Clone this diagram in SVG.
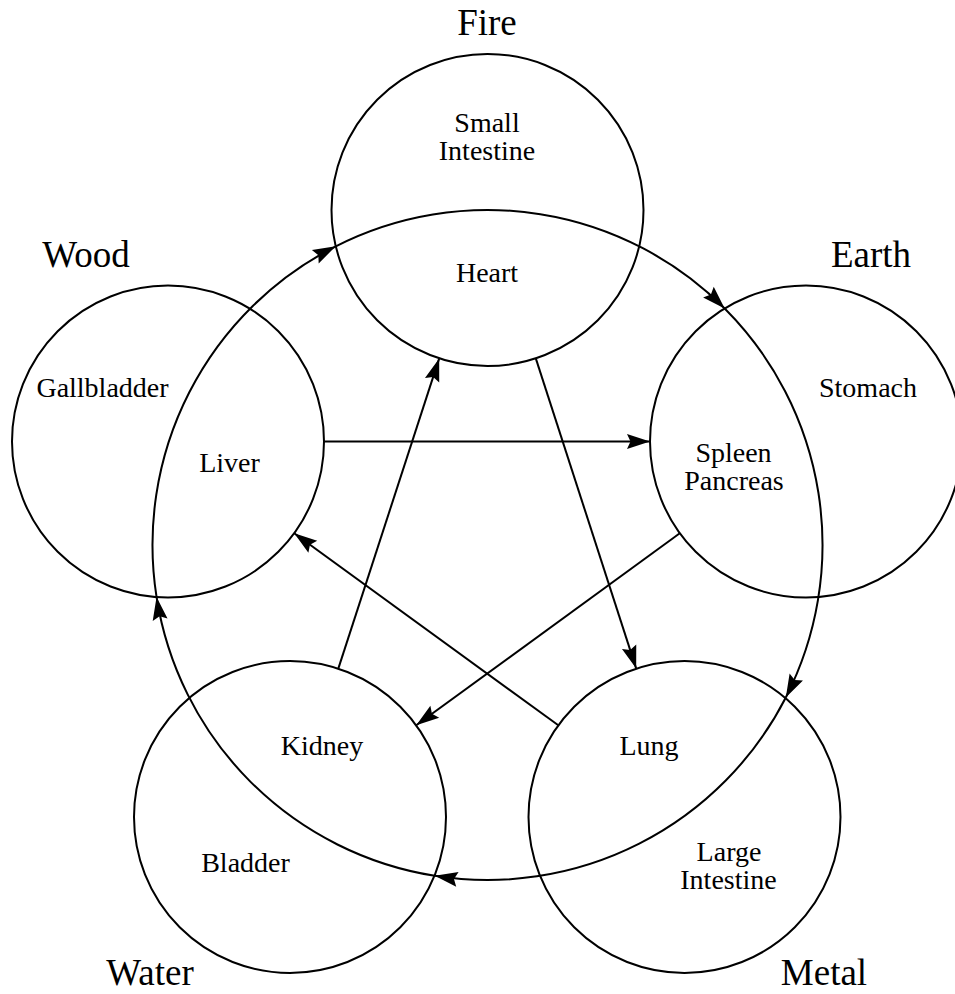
<svg xmlns="http://www.w3.org/2000/svg" width="955" height="994" viewBox="0 0 955 994">
  <style>
    .ring { fill: none; stroke: #000; stroke-width: 2; }
    .edge { fill: none; stroke: #000; stroke-width: 2; marker-end: url(#arrow); }
    .organ { font-family: "Liberation Serif", "Times New Roman", serif; font-size: 28px; fill: #000; text-anchor: middle; }
    .element { font-family: "Liberation Serif", "Times New Roman", serif; font-size: 37px; fill: #000; text-anchor: middle; }
  </style>
  <defs>
    <marker id="arrow" markerUnits="userSpaceOnUse" viewBox="-24 -8 25 16" markerWidth="25" markerHeight="16" refX="0" refY="0" orient="auto">
      <path d="M0,0 L-23,-7.5 L-19.5,0 L-23,7.5 Z" fill="#000"/>
    </marker>
  </defs>
  <rect x="0" y="0" width="955" height="994" fill="#fff"/>

  <g id="fire">
    <circle class="ring" cx="487.5" cy="210" r="156"/>
    <text class="element" x="487" y="35">Fire</text>
    <text class="organ" x="487" y="132">Small</text>
    <text class="organ" x="487" y="160">Intestine</text>
    <text class="organ" x="487" y="282">Heart</text>
  </g>

  <g id="earth">
    <circle class="ring" cx="806" cy="441.5" r="156"/>
    <text class="element" x="871" y="267">Earth</text>
    <text class="organ" x="868" y="397">Stomach</text>
    <text class="organ" x="733.5" y="462">Spleen</text>
    <text class="organ" x="734" y="490">Pancreas</text>
  </g>

  <g id="metal">
    <circle class="ring" cx="684.5" cy="817" r="156"/>
    <text class="element" x="824" y="985">Metal</text>
    <text class="organ" x="649" y="755">Lung</text>
    <text class="organ" x="729" y="861">Large</text>
    <text class="organ" x="728.5" y="889">Intestine</text>
  </g>

  <g id="water">
    <circle class="ring" cx="290" cy="817" r="156"/>
    <text class="element" x="150" y="985">Water</text>
    <text class="organ" x="322" y="755">Kidney</text>
    <text class="organ" x="245.5" y="872">Bladder</text>
  </g>

  <g id="wood">
    <circle class="ring" cx="168" cy="441.5" r="156"/>
    <text class="element" x="86" y="267">Wood</text>
    <text class="organ" x="102.5" y="397">Gallbladder</text>
    <text class="organ" x="229.5" y="472">Liver</text>
  </g>

  <g id="connectors">
    <!-- generating cycle (outer circle) -->
    <path class="edge" d="M156.55,596.99 A335,335 0 0 1 335.78,246.31"/>
    <path class="edge" d="M335.78,246.31 A335,335 0 0 1 724.68,308.42"/>
    <path class="edge" d="M724.68,308.42 A335,335 0 0 1 785.82,697.46"/>
    <path class="edge" d="M785.82,697.46 A335,335 0 0 1 434.70,875.81"/>
    <path class="edge" d="M434.70,875.81 A335,335 0 0 1 156.55,596.99"/>
    <!-- controlling cycle (star) -->
    <path class="edge" d="M324,441.5 L650,441.5"/>
    <path class="edge" d="M679.8,533.2 L416.2,725.3"/>
    <path class="edge" d="M338.3,668.6 L439.2,358.4"/>
    <path class="edge" d="M535.8,358.4 L636.2,668.6"/>
    <path class="edge" d="M558.3,725.3 L294.2,533.2"/>
  </g>
</svg>
